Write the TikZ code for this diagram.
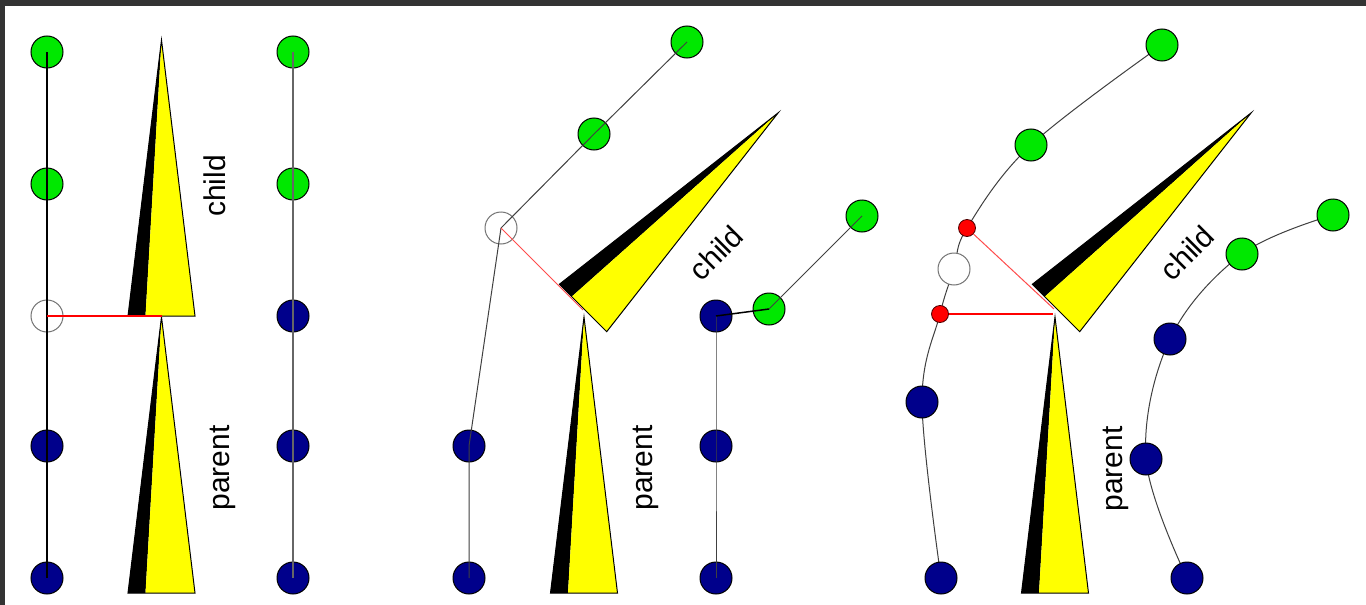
\documentclass[tikz,border=0pt]{standalone}
\usepackage{fontspec}
\setmainfont{Liberation Sans}
\pgfdeclarelayer{back}
\pgfdeclarelayer{bg}
\pgfsetlayers{back,bg,main}
\definecolor{gr}{RGB}{0,232,0}
\definecolor{nv}{RGB}{0,0,139}
\definecolor{yl}{RGB}{255,255,0}
\definecolor{fr}{RGB}{51,51,51}
\tikzset{
  ball/.style={circle,draw=black,line width=1pt,minimum size=32pt,inner sep=0pt},
  gnode/.style={ball,fill=gr},
  nnode/.style={ball,fill=nv},
  onode/.style={ball,draw=black!55,fill=white},
  rnode/.style={circle,draw=black!70!red,line width=0.8pt,fill=red,minimum size=17pt,inner sep=0pt},
  link/.style={draw=black!75,line width=1pt},
  lightlink/.style={draw=black!60,line width=1.2pt},
  heavylink/.style={draw=black,line width=2pt},
  redlink/.style={draw=red,line width=2pt},
  thinred/.style={draw=red!70,line width=1pt},
  lbl/.style={font=\fontsize{30}{36}\selectfont,inner sep=0pt},
  wedgepic/.pic={
    \fill[black] (-33.5,0) -- (-16,0) -- (0,-276) -- cycle;
    \fill[yl] (-16,0) -- (33.5,0) -- (0,-276) -- cycle;
    \draw[line width=1pt,line join=miter] (-33.5,0) -- (33.5,0) -- (0,-276) -- cycle;
  }
}
\begin{document}
\begin{tikzpicture}[x=1pt,y=-1pt]
\useasboundingbox (0,0) rectangle (1366,605);
\begin{pgfonlayer}{back}
\fill[white] (0,0) rectangle (1366,605);
\fill[fr] (0,0) rectangle (1366,6);
\fill[fr] (0,0) rectangle (5,605);
\end{pgfonlayer}

% ---------- panel 1 ----------
\pic at (161.5,593) {wedgepic};
\pic at (161.5,316) {wedgepic};
\node[lbl,rotate=90] (c1lbl) at (215,186) {child};
\node[lbl,rotate=90] (p1lbl) at (223,468) {parent};

\node[gnode] (a1) at (47,52) {};
\node[gnode] (a2) at (47,184) {};
\node[onode] (a3) at (47,316) {};
\node[nnode] (a4) at (47,446) {};
\node[nnode] (a5) at (47,578) {};
\node[gnode] (b1) at (293,52) {};
\node[gnode] (b2) at (293,184) {};
\node[nnode] (b3) at (293,316) {};
\node[nnode] (b4) at (293,446) {};
\node[nnode] (b5) at (293,578) {};
\coordinate (cb1) at (161.5,316);

\draw[heavylink] (a1.center) -- (a2.center) -- (a3.center) -- (a4.center) -- (a5.center);
\draw[lightlink] (b1.center) -- (b2.center) -- (b3.center) -- (b4.center) -- (b5.center);
\draw[redlink] (a3.center) -- (cb1);

% ---------- panel 2 ----------
\pic at (584,593) {wedgepic};
\pic[rotate=-45] at (583,308) {wedgepic};
\node[lbl,rotate=45] (c2lbl) at (716,253) {child};
\node[lbl,rotate=90] (p2lbl) at (646,468) {parent};

\node[onode] (o2) at (501,228) {};
\node[gnode] (g1) at (594,134) {};
\node[gnode] (g2) at (687,42) {};
\node[nnode] (n1) at (469,446) {};
\node[nnode] (n2) at (469,578) {};
\node[nnode] (m1) at (716,316) {};
\node[nnode] (m2) at (716,446) {};
\node[nnode] (m3) at (716,578) {};
\node[gnode] (h1) at (769,309) {};
\node[gnode] (h2) at (862,216) {};
\coordinate (cb2) at (583,310);

\draw[link] (o2.center) -- (g1.center) -- (g2.center);
\draw[link] (o2.center) -- (n1.center) -- (n2.center);
\draw[link] (m1.center) -- (m2.center) -- (m3.center);
\draw[heavylink,line width=1.5pt] (m1.center) -- (h1.center);
\draw[link] (h1.center) -- (h2.center);
\draw[thinred] (o2.center) -- (cb2);

% ---------- panel 3 ----------
\pic at (1055,593) {wedgepic};
\pic[rotate=-45] at (1056,308) {wedgepic};
\node[lbl,rotate=45] (c3lbl) at (1187,253) {child};
\node[lbl,rotate=90] (p3lbl) at (1116,469) {parent};

\node[gnode] (p1) at (1162,45) {};
\node[gnode] (p2) at (1031,145) {};
\node[rnode] (r1) at (967,228) {};
\node[onode] (o3) at (954,269) {};
\node[rnode] (r2) at (940,314) {};
\node[nnode] (q1) at (922,402) {};
\node[nnode] (q2) at (941,578) {};
\node[nnode] (s1) at (1187,578) {};
\node[nnode] (s2) at (1146,459) {};
\node[nnode] (s3) at (1170,339) {};
\node[gnode] (t1) at (1242,254) {};
\node[gnode] (t2) at (1333,215) {};
\coordinate (cb3) at (1054,309);
\coordinate (cb3h) at (1053,314);

\begin{pgfonlayer}{bg}
\draw[link] plot[smooth,tension=0.6] coordinates {(q2.center) (q1.center) (r2.center) (o3.center) (r1.center) (p2.center) (p1.center)};
\draw[link] plot[smooth,tension=0.6] coordinates {(s1.center) (s2.center) (s3.center) (t1.center) (t2.center)};
\end{pgfonlayer}
\draw[thinred] (r1) -- (cb3);
\draw[redlink] (r2) -- (cb3h);
\end{tikzpicture}
\end{document}
